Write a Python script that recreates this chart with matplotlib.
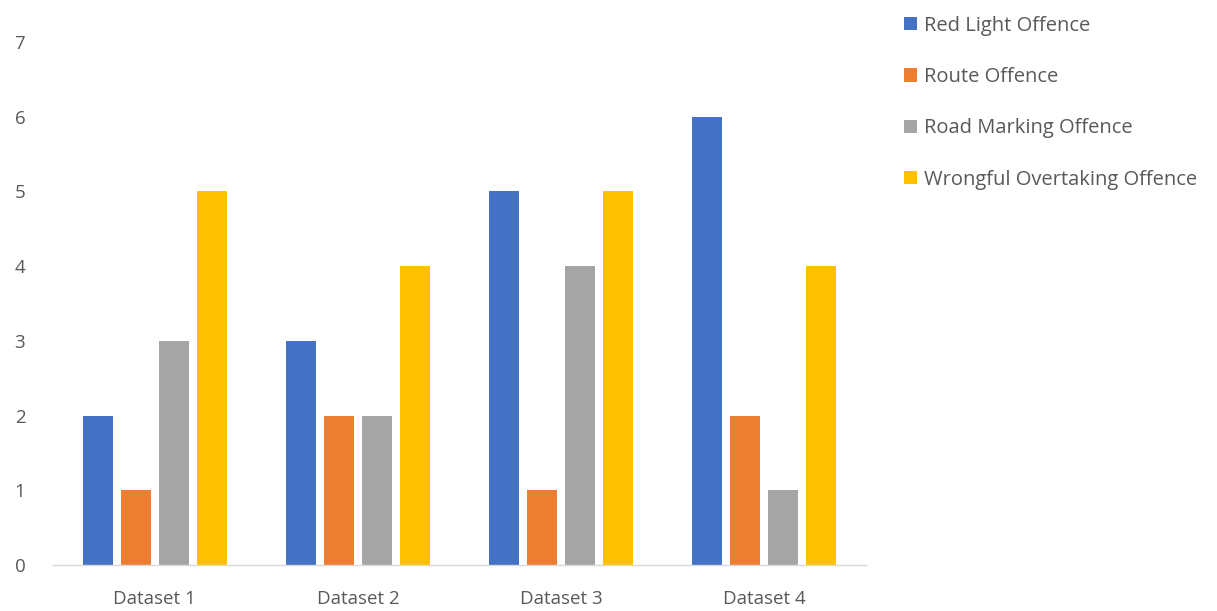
import numpy as np
import matplotlib
matplotlib.use("Agg")
import matplotlib.pyplot as plt

# data
datasets = ["Dataset 1", "Dataset 2", "Dataset 3", "Dataset 4"]
series = ["Red Light Offence", "Route Offence", "Road Marking Offence", "Wrongful Overtaking Offence"]
red_light = [2, 3, 5, 6]
route = [1, 2, 1, 2]
road_marking = [3, 2, 4, 1]
overtaking = [5, 4, 5, 4]
colors = ["#4472C4", "#ED7D31", "#A5A5A5", "#FFC000"]

plt.rcParams["font.family"] = ["Open Sans", "DejaVu Sans"]
text_col = "#595959"

fig = plt.figure(figsize=(12.17, 6.11), dpi=100)
ax = fig.add_axes([0.0436, 0.0753, 0.668, 0.856])

x = np.arange(len(datasets))
step = 0.187
width = 0.148
values = [red_light, route, road_marking, overtaking]
for i, (name, vals) in enumerate(zip(series, values)):
    ax.bar(x + (i - 1.5) * step, vals, width, color=colors[i], label=name, zorder=2)

ax.set_xlim(-0.5, len(datasets) - 0.5)
ax.set_ylim(0, 7)
ax.set_xticks(x)
ax.set_xticklabels(datasets)
ax.set_yticks(range(0, 8))
ax.tick_params(axis="both", length=0, colors=text_col, labelsize=13.5)
ax.tick_params(axis="y", pad=20)
ax.tick_params(axis="x", pad=18)

for s in ["top", "right", "left"]:
    ax.spines[s].set_visible(False)
ax.spines["bottom"].set_color("#D9D9D9")
ax.spines["bottom"].set_linewidth(1.0)

leg = ax.legend(loc="upper left", bbox_to_anchor=(1.037, 1.066), frameon=False,
                handlelength=0.65, handleheight=0.65, handletextpad=0.35,
                labelspacing=1.56, fontsize=14.5, borderaxespad=0)
for t in leg.get_texts():
    t.set_color(text_col)

fig.savefig("out.png", dpi=100, facecolor="white")
